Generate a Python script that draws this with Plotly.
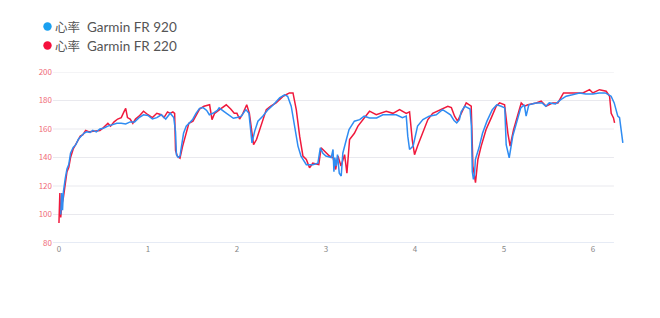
import plotly.graph_objects as go

# ---- data (km, bpm) ----
blue_km = [0.02,0.03,0.04,0.05,0.07,0.09,0.11,0.13,0.16,0.19,0.22,0.25,0.28,0.31,0.35,0.38,0.42,0.46,0.50,0.55,
           0.60,0.65,0.70,0.75,0.80,0.85,0.90,0.95,1.00,1.05,1.10,1.15,1.20,1.25,1.29,1.31,1.32,1.34,1.36,1.38,
           1.40,1.43,1.47,1.50,1.54,1.58,1.62,1.66,1.69,1.73,1.78,1.80,1.86,1.92,1.96,2.00,2.05,2.10,2.135,2.15,
           2.169,2.20,2.236,2.29,2.35,2.41,2.48,2.535,2.57,2.61,2.648,2.686,2.72,2.78,2.853,2.91,2.937,2.966,3.00,3.06,
           3.08,3.09,3.10,3.115,3.13,3.15,3.172,3.19,3.23,3.26,3.32,3.38,3.43,3.49,3.57,3.64,3.71,3.79,3.86,3.903,
           3.92,3.94,3.98,4.03,4.09,4.16,4.24,4.31,4.35,4.40,4.44,4.47,4.50,4.52,4.56,4.60,4.62,4.635,4.645,4.658,
           4.67,4.68,4.72,4.76,4.81,4.87,4.92,4.97,5.01,5.026,5.06,5.10,5.14,5.19,5.23,5.25,5.28,5.36,5.43,5.47,
           5.51,5.58,5.64,5.70,5.77,5.85,5.92,6.00,6.07,6.14,6.205,6.24,6.28,6.30,6.337]
blue_hr = [100,115,103,116,125,132,135,143,147,149,153,155,157,158,157.5,159,158,160,160.5,162,
           163,164,164,163.5,165,165,168,170,169.5,167,168,170,167,171,168,158,142,140,141,150,
           157,162,165,166.5,171,174.5,175,173,170,171,173,174.8,172,169,167.5,168,169,173.6,171,162,
           150.3,158.5,165.5,169,173.6,177,181.8,184,183,176,162,148,141,135,135,136,146.8,143,141,140,
           145.6,130,140,134,142,129,127,143,152.6,159.6,165.5,166.6,169,167.8,167.8,170,170,170,168,169,
           155,145.6,148,162,166.6,169,170,173.6,172,170,166,164.3,166.6,172,176,175,174,162,130,124.6,
           128,138.6,146.8,157,165.5,173.6,177,176,174.8,149,139.8,155,164.3,174.8,177,169,177,178.3,178.3,176,
           178.3,177.5,180.6,183,184,185.3,184.5,184.5,185.3,185.3,183,178.3,169,168,150.3]

red_km = [0.00,0.01,0.02,0.03,0.05,0.07,0.09,0.11,0.13,0.16,0.19,0.22,0.24,0.27,0.30,0.34,0.38,0.42,0.46,0.50,
          0.55,0.58,0.62,0.66,0.70,0.73,0.75,0.77,0.80,0.83,0.86,0.90,0.95,1.00,1.05,1.10,1.15,1.18,1.22,1.25,
          1.28,1.30,1.31,1.33,1.36,1.39,1.43,1.46,1.506,1.543,1.58,1.63,1.693,1.72,1.75,1.805,1.88,1.93,1.97,2.00,
          2.03,2.06,2.11,2.14,2.187,2.22,2.254,2.29,2.33,2.38,2.44,2.52,2.59,2.63,2.667,2.705,2.742,2.78,2.816,2.853,
          2.92,2.946,2.98,3.04,3.08,3.11,3.135,3.17,3.21,3.236,3.266,3.32,3.36,3.416,3.49,3.566,3.678,3.753,3.828,3.903,
          3.94,3.97,3.996,4.03,4.09,4.146,4.20,4.28,4.37,4.41,4.446,4.48,4.54,4.577,4.633,4.652,4.681,4.708,4.745,4.80,
          4.858,4.914,4.952,5.008,5.045,5.07,5.109,5.157,5.195,5.232,5.27,5.363,5.419,5.476,5.55,5.607,5.67,5.738,5.813,5.888,
          5.963,6.00,6.075,6.15,6.188,6.206,6.232,6.244]
red_hr = [94,115,98,106,112,120,130,133,140,146,149,152,155,156,159,158,158.5,159,159,161,
          164,162,165,167,168,172,174.5,168,167,164,167,169,172.5,170,168,171,170,168,172,171,
          172,171,145,141,139.5,148,157,164,165.5,170,174,176,177,166.6,171,173.6,177,174,171,171,
          167,170,177,171,149,152.6,159.6,166.6,173.6,176,178.3,183,185.3,185.3,173.6,155,141,138.6,132.8,136,
          135,146.8,144.5,141,140,131.6,141,134,142,129,152.6,157,162,166.6,172.5,170,172.5,171,173.6,171,
          172,152.6,142,148,157,166.6,171,173.6,176,175,169,165.5,173.6,178.3,176,134,122.3,138.6,148,159.6,
          167.8,176,178.3,177,157,148,159.6,171,178.3,176,177,178.3,179.5,176,178.3,178.3,185.3,185.3,185.3,185.3,
          187.6,185.3,187.6,186.5,183,171,167.8,164.3]

series_labels = [("心率", "Garmin FR 920"), ("心率", "Garmin FR 220")]
line_colors = ["#2f8cf2", "#f0193c"]
legend_colors = ["#1aa0f0", "#f5103c"]
y_ticks = [80, 100, 120, 140, 160, 180, 200]
x_ticks = [0, 1, 2, 3, 4, 5, 6]

X_MIN, X_GRID_END, X_MAX = -0.067, 6.237, 6.35
W, H = 660, 318
ML, MR, MT, MB = 53, 36, 72, 75
PW, PH = W - ML - MR, H - MT - MB

def px_x(p):
    return (p - ML) / PW

def px_y(p):
    return 1 + (MT - p) / PH

fig = go.Figure()
fig.add_trace(go.Scatter(x=red_km, y=red_hr, mode="lines", showlegend=False,
                         line=dict(color=line_colors[1], width=1.5)))
fig.add_trace(go.Scatter(x=blue_km, y=blue_hr, mode="lines", showlegend=False,
                         line=dict(color=line_colors[0], width=1.5)))

# gridlines limited to the grid area
for v in y_ticks:
    fig.add_shape(type="line", xref="x", yref="y", x0=X_MIN, x1=X_GRID_END, y0=v, y1=v,
                  line=dict(color="#ccd6eb" if v == 80 else "#e9e9ee", width=1), layer="below")

# legend drawn as circle shapes + text annotations
for i, ((cjk, latin), col) in enumerate(zip(series_labels, legend_colors)):
    yc = 26.5 + i * 19
    fig.add_shape(type="circle", xref="paper", yref="paper",
                  xsizemode="pixel", ysizemode="pixel",
                  xanchor=px_x(47.5), yanchor=px_y(yc),
                  x0=-4.2, x1=4.2, y0=-4.2, y1=4.2,
                  fillcolor=col, line=dict(width=0))
    fig.add_annotation(xref="paper", yref="paper", x=px_x(53), y=px_y(yc),
                       xanchor="left", yanchor="middle", showarrow=False,
                       text=(f"<span style='font-family:Noto Sans CJK SC;font-size:12.5px'>{cjk}</span>"
                             f"<span style='font-family:Lato;font-size:13.5px'>&nbsp;&nbsp;{latin}</span>"),
                       font=dict(size=13.5, color="#555555", family="Lato"))

fig.update_layout(
    width=W, height=H,
    margin=dict(l=ML, r=MR, t=MT, b=MB, autoexpand=False),
    paper_bgcolor="white", plot_bgcolor="white",
    font=dict(family="Noto Sans CJK SC, Noto Sans, sans-serif"),
    showlegend=False,
    xaxis=dict(range=[X_MIN, X_MAX], tickvals=x_ticks, showgrid=False, zeroline=False,
               showline=False, ticks="", tickfont=dict(size=8, color="#888888")),
    yaxis=dict(range=[80, 200], tickvals=y_ticks, showgrid=False, zeroline=False,
               showline=False, ticks="", tickfont=dict(size=8, color="#f06a78")),
)

fig.write_html("out.html")
